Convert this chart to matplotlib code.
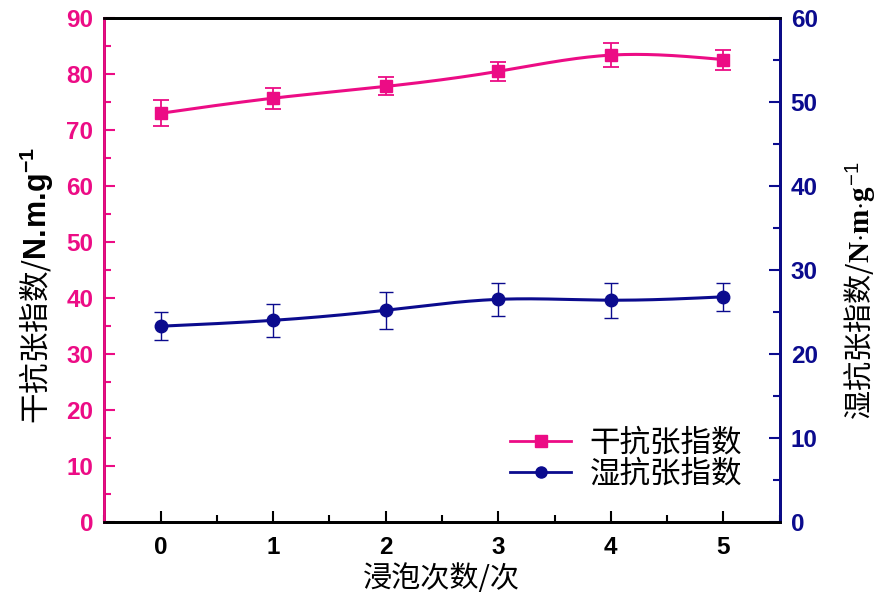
import matplotlib.pyplot as plt
import numpy as np
from matplotlib.ticker import MultipleLocator
from matplotlib.lines import Line2D

plt.rcParams['font.family'] = ['Noto Sans CJK SC', 'DejaVu Sans']
plt.rcParams['mathtext.fontset'] = 'custom'
plt.rcParams['mathtext.bf'] = 'Liberation Sans:bold'
plt.rcParams['mathtext.it'] = 'Liberation Serif:bold'
plt.rcParams['mathtext.rm'] = 'Liberation Sans'

# data
soaks = [0, 1, 2, 3, 4, 5]
dry = [73.0, 75.7, 77.8, 80.5, 83.4, 82.6]
dry_err = [2.3, 1.9, 1.6, 1.7, 2.1, 1.8]
wet = [23.3, 24.0, 25.2, 26.5, 26.4, 26.8]
wet_err = [1.7, 2.0, 2.2, 2.0, 2.1, 1.7]

pink = '#EC0C85'
navy = '#0B0B8E'


def spline(x, y, n=200):
    # natural cubic spline through the points, only for drawing the line
    x = np.asarray(x, float)
    y = np.asarray(y, float)
    h = np.diff(x)
    m = len(x)
    A = np.zeros((m, m))
    b = np.zeros(m)
    A[0, 0] = A[-1, -1] = 1
    for i in range(1, m - 1):
        A[i, i - 1] = h[i - 1]
        A[i, i] = 2 * (h[i - 1] + h[i])
        A[i, i + 1] = h[i]
        b[i] = 6 * ((y[i + 1] - y[i]) / h[i] - (y[i] - y[i - 1]) / h[i - 1])
    M = np.linalg.solve(A, b)
    xs = np.linspace(x[0], x[-1], n)
    idx = np.clip(np.searchsorted(x, xs) - 1, 0, m - 2)
    x0, x1 = x[idx], x[idx + 1]
    hh = x1 - x0
    ys = (M[idx] * (x1 - xs) ** 3 / (6 * hh) + M[idx + 1] * (xs - x0) ** 3 / (6 * hh)
          + (y[idx] / hh - M[idx] * hh / 6) * (x1 - xs)
          + (y[idx + 1] / hh - M[idx + 1] * hh / 6) * (xs - x0))
    return xs, ys


fig = plt.figure(figsize=(8.76, 6.06), dpi=100)
ax = fig.add_axes([0.119, 0.139, 0.771, 0.831])
ax2 = ax.twinx()

xs, ys = spline(soaks, dry)
ax.plot(xs, ys, color=pink, lw=2.2)
ax.errorbar(soaks, dry, yerr=dry_err, fmt='s', color=pink, ms=9,
            elinewidth=1.3, capsize=6, capthick=1.3)

xs, ys = spline(soaks, wet)
ax2.plot(xs, ys, color=navy, lw=2.2)
ax2.errorbar(soaks, wet, yerr=wet_err, fmt='o', color=navy, ms=9,
             elinewidth=1.0, capsize=5, capthick=1.0)

ax.set_xlim(-0.5, 5.5)
ax.set_ylim(0, 90)
ax2.set_ylim(0, 60)

ax.xaxis.set_major_locator(MultipleLocator(1))
ax.xaxis.set_minor_locator(MultipleLocator(0.5))
ax.yaxis.set_major_locator(MultipleLocator(10))
ax.yaxis.set_minor_locator(MultipleLocator(5))
ax2.yaxis.set_major_locator(MultipleLocator(10))
ax2.yaxis.set_minor_locator(MultipleLocator(5))

tickfont = {'family': 'Liberation Sans', 'weight': 'bold', 'size': 17.5}
ax.tick_params(axis='x', which='both', direction='in', top=False, width=1.5)
ax.tick_params(axis='x', which='major', length=8, pad=10)
ax.tick_params(axis='x', which='minor', length=5)
ax.tick_params(axis='y', which='both', direction='in', color=pink, labelcolor=pink, width=1.5)
ax.tick_params(axis='y', which='major', length=8, pad=8)
ax.tick_params(axis='y', which='minor', length=5)
ax2.tick_params(axis='y', which='both', direction='in', color=navy, labelcolor=navy, width=1.5)
ax2.tick_params(axis='y', which='major', length=8, pad=8)
ax2.tick_params(axis='y', which='minor', length=5)

for lab in ax.get_xticklabels() + ax.get_yticklabels() + ax2.get_yticklabels():
    lab.set_fontproperties(tickfont)

for a in (ax, ax2):
    for s in a.spines.values():
        s.set_linewidth(2)
ax2.spines['left'].set_color(pink)
ax2.spines['right'].set_color(navy)
ax2.spines['top'].set_color('black')
ax2.spines['bottom'].set_color('black')

ax.set_xlabel('浸泡次数/次', fontsize=21, labelpad=4)
ax.set_ylabel('干抗张指数/$\\mathbf{N.\\!m.\\!g^{-1}}$', fontsize=22)
ax.yaxis.set_label_coords(-0.072, 0.47)
ax2.set_ylabel('湿抗张指数/$\\mathit{N{\\cdot}m{\\cdot}g^{-1}}$', fontsize=21,
               rotation=90)
ax2.yaxis.set_label_coords(1.093, 0.46)

handles = [Line2D([], [], color=pink, lw=2, marker='s', ms=8),
           Line2D([], [], color=navy, lw=2, marker='o', ms=8)]
ax.legend(handles, ['干抗张指数', '湿抗张指数'], loc='lower right',
          bbox_to_anchor=(0.985, 0.01), frameon=False, fontsize=22,
          handlelength=2.0, handletextpad=0.6, labelspacing=0.0)

fig.savefig('out.png', dpi=100)
